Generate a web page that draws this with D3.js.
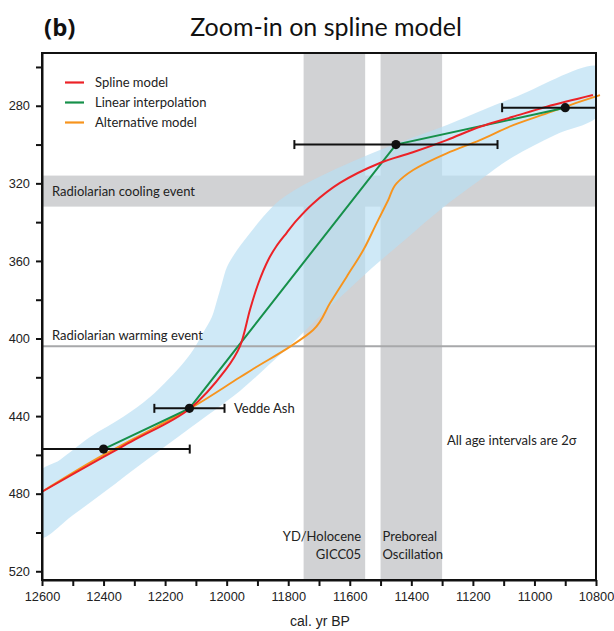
<!DOCTYPE html>
<html>
<head>
<meta charset="utf-8">
<script src="https://cdn.jsdelivr.net/npm/d3@7"></script>
<style>
  html, body { margin: 0; padding: 0; background: #fff; }
  svg { display: block; }
  .tick text { font-family: "Liberation Sans", Arial, sans-serif; font-size: 12.8px; fill: #222; }
  .ann { font-family: Lato, "Open Sans", sans-serif; fill: #222; }
</style>
</head>
<body>
<svg id="chart" width="614" height="631"></svg>
<script>
// ---- age–depth data (age in cal. yr BP, depth in cm) ----
const tiePointAge   = [12400, 12121, 11450, 10900];
const tiePointDepth = [457, 436, 300, 281];
const tiePointErr   = [280, 114, 330, 205];   // 2σ age intervals

const splineAge   = [12600, 12400, 12300, 12121, 12003, 11957, 11924, 11897, 11865, 11838, 11805, 11772, 11720, 11632, 11502, 11395, 11285, 11177, 11070, 10960, 10810];
const splineDepth = [479, 461, 452.3, 436.3, 416, 404, 385, 371.5, 359.5, 352.3, 345.5, 339, 330.5, 319.8, 309.5, 304, 297.7, 290.8, 285.7, 280.5, 274.5];

const altAge   = [12600, 12400, 12300, 12121, 11957, 11919, 11794, 11719, 11664, 11610, 11556, 11513, 11475, 11448, 11394, 11285, 11177, 11069, 10960, 10852, 10787];
const altDepth = [479, 460, 451.5, 436.3, 420, 416.2, 404.2, 395.6, 381.7, 368.1, 354.4, 340.6, 328.6, 320, 313.1, 304.5, 297.7, 290, 283.9, 277.9, 274.5];

// confidence envelope of the spline model: upper (shallow) and lower (deep) edges
const envUpperAge   = [12610, 12542, 12444, 12337, 12249, 12152, 12109, 12077, 12048, 12031, 12015, 11999, 11966, 11924, 11882, 11827, 11720, 11502, 11284, 11070, 10785];
const envUpperDepth = [469.3, 462.6, 450.8, 440.5, 430.2, 414.7, 405.9, 397.2, 388.9, 380.2, 371.4, 363.1, 354.4, 345.6, 337.4, 328.6, 318.3, 302.8, 289.9, 276, 260];
const envLowerAge   = [10787, 10933, 11070, 11177, 11307, 11437, 11528, 11616, 11697, 11785, 11849, 11957, 12119, 12282, 12389, 12499, 12607];
const envLowerDepth = [284.2, 295.1, 306.4, 318.3, 333.7, 351.3, 363.6, 376.5, 388.4, 402.3, 411.6, 427.0, 446.1, 465.2, 478.1, 491, 502.8];

// event bands
const ageBands   = [[11750, 11550], [11500, 11300]];
const depthBands = [[316, 332]];
const warmingDepth = 404;

const xTickValues = d3.range(12600, 10799, -200);
const xMinorTicks = d3.range(12600, 10799, -100);
const yTickValues = d3.range(280, 521, 40);
const yMinorTicks = d3.range(260, 521, 20);

// ---- layout ----
const svg = d3.select("#chart");
const plot = { left: 42, right: 596, top: 53, bottom: 580 };

const x = d3.scaleLinear().domain([12600, 10800]).range([plot.left, plot.right]);
const y = d3.scaleLinear().domain([252.8, 524.5]).range([plot.top, plot.bottom]);

svg.append("defs").append("clipPath").attr("id", "plotClip")
  .append("rect")
  .attr("x", plot.left).attr("y", plot.top)
  .attr("width", plot.right - plot.left).attr("height", plot.bottom - plot.top);

const bg = svg.append("g").attr("clip-path", "url(#plotClip)");

// grey event bands
bg.selectAll("rect.ageband").data(ageBands).join("rect")
  .attr("class", "ageband")
  .attr("x", d => x(d[0])).attr("width", d => x(d[1]) - x(d[0]))
  .attr("y", plot.top).attr("height", plot.bottom - plot.top)
  .attr("fill", "#d1d2d4");
bg.selectAll("rect.depthband").data(depthBands).join("rect")
  .attr("class", "depthband")
  .attr("x", plot.left).attr("width", plot.right - plot.left)
  .attr("y", d => y(d[0])).attr("height", d => y(d[1]) - y(d[0]))
  .attr("fill", "#d1d2d4");

// confidence envelope
const envPts = envUpperAge.map((a, i) => [a, envUpperDepth[i]])
  .concat(envLowerAge.map((a, i) => [a, envLowerDepth[i]]));
bg.append("path")
  .attr("d", d3.line().x(d => x(d[0])).y(d => y(d[1])).curve(d3.curveCatmullRomClosed)(envPts))
  .attr("fill", "#b8dff3").attr("fill-opacity", 0.68);

// warming event line
bg.append("line")
  .attr("x1", plot.left).attr("x2", plot.right)
  .attr("y1", y(warmingDepth)).attr("y2", y(warmingDepth))
  .attr("stroke", "#a7a8aa").attr("stroke-width", 2);

// annotations inside the plot
const ann = svg.append("g").attr("class", "ann").attr("font-size", 13);
ann.append("text").attr("x", 52).attr("y", y(324) + 4.5).text("Radiolarian cooling event");
ann.append("text").attr("x", 52).attr("y", y(404) - 6).text("Radiolarian warming event");
ann.append("text").attr("x", x(11550) - 4).attr("y", 541).attr("text-anchor", "end").text("YD/Holocene");
ann.append("text").attr("x", x(11550) - 4).attr("y", 559).attr("text-anchor", "end").text("GICC05");
ann.append("text").attr("x", x(11500) + 2).attr("y", 541).text("Preboreal");
ann.append("text").attr("x", x(11500) + 2).attr("y", 559).text("Oscillation");
ann.append("text").attr("x", 447).attr("y", 445).text("All age intervals are 2σ");
ann.append("text").attr("x", 234).attr("y", 413).text("Vedde Ash");

// model curves
const lineGen = d3.line().x(d => x(d[0])).y(d => y(d[1]));
const curves = svg.append("g");
curves.append("path")
  .attr("d", lineGen.curve(d3.curveMonotoneY)(altAge.map((a, i) => [a, altDepth[i]])))
  .attr("fill", "none").attr("stroke", "#f7941d").attr("stroke-width", 1.9);
curves.append("path")
  .attr("d", lineGen.curve(d3.curveLinear)(tiePointAge.map((a, i) => [a, tiePointDepth[i]])))
  .attr("fill", "none").attr("stroke", "#16904a").attr("stroke-width", 2);
curves.append("path")
  .attr("d", lineGen.curve(d3.curveCatmullRom.alpha(0.5))(splineAge.map((a, i) => [a, splineDepth[i]])))
  .attr("fill", "none").attr("stroke", "#ec2227").attr("stroke-width", 2);

// tie points with 2σ error bars (clipped to the frame)
const pts = svg.append("g").attr("clip-path", "url(#plotClip)");
tiePointAge.forEach((a, i) => {
  const d = tiePointDepth[i], e = tiePointErr[i];
  const g = pts.append("g");
  g.append("line").attr("x1", x(a + e)).attr("x2", x(a - e))
    .attr("y1", y(d)).attr("y2", y(d)).attr("stroke", "#111").attr("stroke-width", 2);
  [a + e, a - e].forEach(v => g.append("line")
    .attr("x1", x(v)).attr("x2", x(v)).attr("y1", y(d) - 4.5).attr("y2", y(d) + 4.5)
    .attr("stroke", "#111").attr("stroke-width", 2));
  g.append("circle").attr("cx", x(a)).attr("cy", y(d)).attr("r", 4.6).attr("fill", "#111");
});

// frame
svg.append("rect")
  .attr("x", plot.left).attr("y", plot.top)
  .attr("width", plot.right - plot.left).attr("height", plot.bottom - plot.top)
  .attr("fill", "none").attr("stroke", "#111").attr("stroke-width", 2);

// axes
const xAxis = svg.append("g").attr("transform", `translate(0,${plot.bottom})`)
  .call(d3.axisBottom(x).tickValues(xMinorTicks).tickSize(6).tickSizeOuter(0)
    .tickFormat(d => xTickValues.includes(d) ? d : ""));
xAxis.select(".domain").attr("stroke", "#111").attr("stroke-width", 2);
xAxis.selectAll(".tick line").attr("stroke", "#111").attr("stroke-width", 2);
xAxis.selectAll(".tick text").attr("dy", "0.95em");

const yAxis = svg.append("g").attr("transform", `translate(${plot.left},0)`)
  .call(d3.axisLeft(y).tickValues(yMinorTicks).tickSize(6).tickSizeOuter(0)
    .tickFormat(d => yTickValues.includes(d) ? d : ""));
yAxis.select(".domain").attr("stroke", "#111").attr("stroke-width", 2);
yAxis.selectAll(".tick line").attr("stroke", "#111").attr("stroke-width", 2);
yAxis.selectAll(".tick text").attr("x", -12);

svg.append("text").attr("x", 320).attr("y", 626).attr("text-anchor", "middle")
  .attr("font-family", "'Liberation Sans', Arial, sans-serif").attr("font-size", 14).attr("fill", "#222")
  .text("cal. yr BP");

// title
svg.append("text").attr("x", 44).attr("y", 36)
  .attr("font-family", "'Open Sans', sans-serif").attr("font-weight", "bold").attr("font-size", 24).attr("fill", "#111")
  .text("(b)");
svg.append("text").attr("x", 326).attr("y", 36).attr("text-anchor", "middle")
  .attr("font-family", "Lato, 'Open Sans', sans-serif").attr("font-size", 25).attr("fill", "#111")
  .text("Zoom-in on spline model");

// legend
const legendItems = ["Spline model", "Linear interpolation", "Alternative model"];
const legendColors = ["#ec2227", "#16904a", "#f7941d"];
const lg = svg.append("g").attr("class", "ann");
legendItems.forEach((t, i) => {
  const ly = 82.5 + i * 20;
  lg.append("line").attr("x1", 65).attr("x2", 84).attr("y1", ly).attr("y2", ly)
    .attr("stroke", legendColors[i]).attr("stroke-width", 2.2);
  lg.append("text").attr("x", 95).attr("y", ly + 4.6).attr("font-size", 13).text(t);
});
</script>
</body>
</html>
